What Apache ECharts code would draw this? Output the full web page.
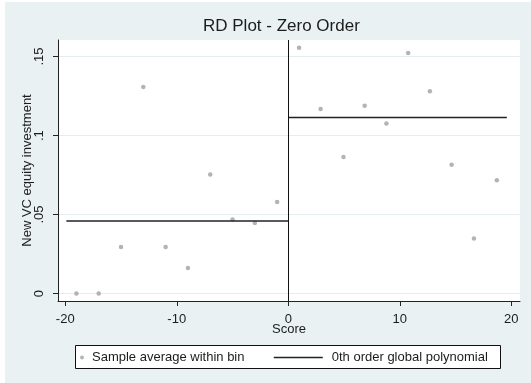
<!DOCTYPE html>
<html>
<head>
<meta charset="utf-8">
<script src="https://cdn.jsdelivr.net/npm/echarts@6/dist/echarts.min.js"></script>
<style>
  html, body { margin: 0; padding: 0; background: #fff; }
  #chart { position: absolute; left: 5px; top: 2px; width: 526px; height: 381px; }
</style>
</head>
<body>
<div id="chart"></div>
<script>
// bins left of the cutoff
const leftScore = [-19, -17, -15, -13, -11, -9, -7, -5, -3, -1];
const leftMean = [0, 0, 0.0295, 0.1307, 0.0295, 0.0162, 0.0754, 0.0469, 0.0447, 0.058];
// bins right of the cutoff
const rightScore = [0.97, 2.9, 4.95, 6.85, 8.8, 10.75, 12.7, 14.65, 16.65, 18.7];
const rightMean = [0.1556, 0.1168, 0.0864, 0.1189, 0.1077, 0.1523, 0.128, 0.0815, 0.0349, 0.0718];
// 0th order fit on each side
const leftFitX = [-19.9, 0];
const leftFitY = [0.046, 0.046];
const rightFitX = [0, 19.6];
const rightFitY = [0.1115, 0.1115];

const xTicks = [-20, -10, 0, 10, 20];
const yTicks = [0, 0.05, 0.1, 0.15];
const yTickLabels = ['0', '.05', '.1', '.15'];

const FONT = '"Liberation Sans", Arial, sans-serif';
const TXT = '#1c1c1c';
const scatterName = 'Sample average within bin';
const fitName = '0th order global polynomial';

const zip = (xs, ys) => xs.map((x, i) => [x, ys[i]]);

const chart = echarts.init(document.getElementById('chart'), null, { renderer: 'canvas' });

chart.setOption({
  backgroundColor: '#e9f1f2',
  animation: false,
  textStyle: { fontFamily: FONT },
  title: {
    text: 'RD Plot - Zero Order',
    left: 198,
    top: 16,
    padding: 0,
    textStyle: { fontFamily: FONT, fontSize: 17, fontWeight: 'normal', color: TXT },
  },
  grid: {
    left: 53,
    right: 11,
    top: 38,
    bottom: 82,
    containLabel: false,
    show: true,
    backgroundColor: '#fff',
    borderWidth: 0,
  },
  graphic: [
    {
      type: 'rect',
      shape: { x: 70.5, y: 343.5, width: 425, height: 23 },
      style: { fill: '#fff', stroke: '#111', lineWidth: 1 },
      z: 1,
    },
  ],
  legend: [
    {
      data: [scatterName],
      left: 75,
      top: 349,
      padding: 0,
      icon: 'circle',
      itemWidth: 4,
      itemHeight: 4,
      itemStyle: { color: '#a3a3a3' },
      textStyle: { fontFamily: FONT, fontSize: 13, color: TXT, padding: [0, 0, 0, 3] },
      z: 5,
    },
    {
      data: [fitName],
      left: 268,
      top: 349,
      padding: 0,
      itemWidth: 49,
      itemHeight: 10,
      itemStyle: { opacity: 0 },
      lineStyle: { color: '#222', width: 1.5 },
      textStyle: { fontFamily: FONT, fontSize: 13, color: TXT, padding: [0, 0, 0, 4] },
      z: 5,
    },
  ],
  xAxis: {
    type: 'value',
    min: -20.65,
    max: 20.78,
    name: 'Score',
    nameLocation: 'middle',
    nameGap: 22,
    nameMoveOverlap: false,
    nameTextStyle: { fontFamily: FONT, fontSize: 13, color: TXT },
    axisLine: { show: true, onZero: false, lineStyle: { color: '#222', width: 1 } },
    axisTick: { show: true, length: 5, customValues: xTicks, lineStyle: { color: '#222' } },
    axisLabel: {
      customValues: xTicks,
      margin: 12,
      fontFamily: FONT,
      fontSize: 13,
      color: TXT,
    },
    splitLine: { show: false },
  },
  yAxis: {
    type: 'value',
    min: -0.0047,
    max: 0.1605,
    name: 'New VC equity investment',
    nameLocation: 'middle',
    nameRotate: 90,
    nameGap: 24,
    nameMoveOverlap: false,
    nameTextStyle: { fontFamily: FONT, fontSize: 13, color: TXT },
    axisLine: { show: true, onZero: false, lineStyle: { color: '#222', width: 1 } },
    axisTick: { show: true, length: 5, customValues: yTicks, lineStyle: { color: '#222' } },
    axisLabel: {
      customValues: yTicks,
      rotate: 90,
      margin: 12,
      fontFamily: FONT,
      fontSize: 13,
      color: TXT,
      formatter: (v) => yTickLabels[yTicks.findIndex((t) => Math.abs(t - v) < 1e-9)] ?? '',
    },
    splitLine: { show: true, lineStyle: { color: '#e3eef0', width: 1 } },
  },
  series: [
    {
      name: scatterName,
      type: 'scatter',
      symbol: 'circle',
      symbolSize: 4.5,
      itemStyle: { color: '#a0a0a0' },
      data: zip(leftScore, leftMean).concat(zip(rightScore, rightMean)),
      z: 3,
    },
    {
      name: fitName,
      type: 'line',
      symbol: 'none',
      lineStyle: { color: '#222', width: 1.5 },
      itemStyle: { color: '#222' },
      data: zip(leftFitX, leftFitY),
      markLine: {
        silent: true,
        symbol: 'none',
        label: { show: false },
        lineStyle: { color: '#111', width: 1, type: 'solid' },
        data: [{ xAxis: 0 }],
      },
      z: 4,
    },
    {
      name: fitName,
      type: 'line',
      symbol: 'none',
      lineStyle: { color: '#222', width: 1.5 },
      itemStyle: { color: '#222' },
      data: zip(rightFitX, rightFitY),
      z: 4,
    },
  ],
});
</script>
</body>
</html>
